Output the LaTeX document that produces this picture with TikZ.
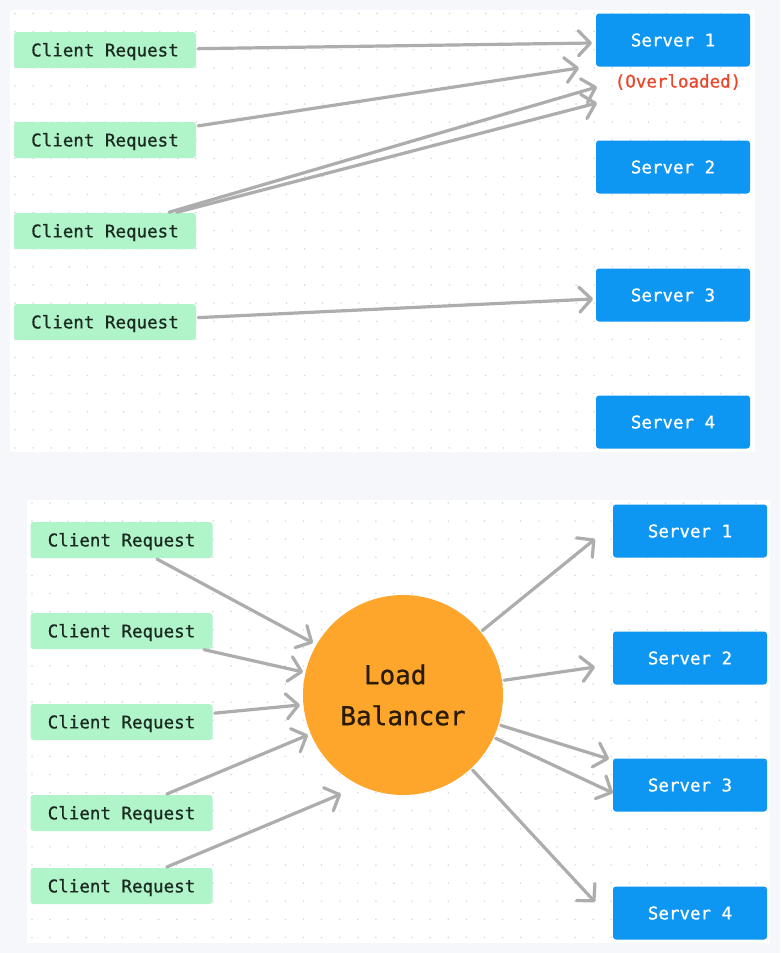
\documentclass[tikz,border=0pt]{standalone}
\usepackage{fontspec}
\setmonofont{DejaVu Sans Mono}[FakeBold=0.8]
\usetikzlibrary{arrows.meta}

\definecolor{pagebg}{HTML}{F5F7FA}
\definecolor{dotgray}{HTML}{D6DADF}
\definecolor{clientgreen}{HTML}{B0F4C9}
\definecolor{clienttext}{HTML}{1B2A20}
\definecolor{serverblue}{HTML}{0D96F2}
\definecolor{lborange}{HTML}{FDA62B}
\definecolor{lbtext}{HTML}{2A1B08}
\definecolor{overred}{HTML}{E8472B}
\definecolor{arrowgray}{HTML}{ADADAD}

\tikzset{
    client/.style={
        rectangle,
        rounded corners=3pt,
        fill=clientgreen,
        text=clienttext,
        minimum width=182pt,
        minimum height=36pt,
        inner sep=0pt,
        text height=12.8pt,
        text depth=0pt,
        font=\ttfamily\fontsize{17.5}{21}\selectfont
    },
    server/.style={
        rectangle,
        rounded corners=3pt,
        fill=serverblue,
        text=white,
        minimum width=154pt,
        minimum height=53pt,
        inner sep=0pt,
        text height=12.8pt,
        text depth=0pt,
        font=\ttfamily\fontsize{17.5}{21}\selectfont
    },
    balancer/.style={
        circle,
        fill=lborange,
        text=lbtext,
        minimum size=200pt,
        inner sep=0pt,
        align=center,
        font=\ttfamily\fontsize{26}{41}\selectfont
    },
    arrow/.style={
        draw=arrowgray,
        line width=3.2pt,
        line cap=round,
        shorten <=2pt,
        -{Straight Barb[length=12pt,width=25pt,line cap=round,line join=round]}
    }
}

\begin{document}
\begin{tikzpicture}[x=1pt,y=-1pt]
    % Page and panels
    \useasboundingbox (0,0) rectangle (780,953);
    \fill[pagebg] (0,0) rectangle (780,953);
    \fill[white] (10,10) rectangle (755,452);
    \fill[white] (27,500) rectangle (770,943);

    % Dot grid
    \foreach \i in {0,...,40}
        \foreach \j in {0,...,24} {
            \fill[dotgray] (15+18.1*\i,13.5+18.1*\j) circle (0.9pt);
            \fill[dotgray] (32+18.1*\i,503+18.1*\j) circle (0.9pt);
        }

    % Without load balancer
    \node[client] (c1) at (105,50) {Client Request};
    \node[client] (c2) at (105,140) {Client Request};
    \node[client] (c3) at (105,231) {Client Request};
    \node[client] (c4) at (105,322) {Client Request};

    \node[server] (s1) at (673,40) {Server 1};
    \node[server] (s2) at (673,167) {Server 2};
    \node[server] (s3) at (673,295) {Server 3};
    \node[server] (s4) at (673,422) {Server 4};
    \node[text=overred, font=\ttfamily\fontsize{17.5}{21}\selectfont]
        (over) at (678,82) {(Overloaded)};

    \coordinate (ta1) at (592,43);
    \coordinate (ta2) at (579,68);
    \coordinate (ta3) at (597,87);
    \coordinate (ta4) at (597,103);
    \coordinate (ta5) at (593,299);

    \draw[arrow] (c1) -- (ta1);
    \draw[arrow] (c2) -- (ta2);
    \draw[arrow] (c3) -- (ta3);
    \draw[arrow] (c3) -- (ta4);
    \draw[arrow] (c4) -- (ta5);

    % With load balancer
    \node[client] (bc1) at (121.5,540) {Client Request};
    \node[client] (bc2) at (121.5,631) {Client Request};
    \node[client] (bc3) at (121.5,722) {Client Request};
    \node[client] (bc4) at (121.5,813) {Client Request};
    \node[client] (bc5) at (121.5,886) {Client Request};

    \node[balancer] (lb) at (403,695) {Load\hphantom{x}\\Balancer};

    \node[server] (bs1) at (690,531) {Server 1};
    \node[server] (bs2) at (690,658) {Server 2};
    \node[server] (bs3) at (690,785) {Server 3};
    \node[server] (bs4) at (690,913) {Server 4};

    \coordinate (lbin1) at (313,643);
    \coordinate (lbin2) at (303,672);
    \coordinate (lbin3) at (300,705);
    \coordinate (lbin4) at (308,735);
    \coordinate (lbin5) at (341,794);

    \coordinate (lbout1) at (595,539);
    \coordinate (lbout2) at (595,667);
    \coordinate (lbout3) at (609,759);
    \coordinate (lbout4) at (613,793);
    \coordinate (lbout5) at (595,902);

    \draw[arrow] (bc1) -- (lbin1);
    \draw[arrow] (bc2) -- (lbin2);
    \draw[arrow] (bc3) -- (lbin3);
    \draw[arrow] (bc4) -- (lbin4);
    \draw[arrow] (bc5) -- (lbin5);

    \draw[arrow] (lb) -- (lbout1);
    \draw[arrow] (lb) -- (lbout2);
    \draw[arrow] (lb) -- (lbout3);
    \draw[arrow] (lb) -- (lbout4);
    \draw[arrow] (lb) -- (lbout5);
\end{tikzpicture}
\end{document}
